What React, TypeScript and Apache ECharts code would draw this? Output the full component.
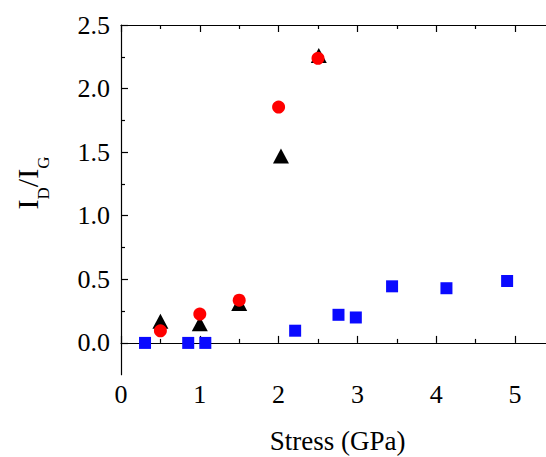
import React, { useEffect, useRef } from 'react';
import * as echarts from 'echarts';

const squareData: number[][] = [
  [0.305, 0], [0.853, 0], [1.07, 0], [2.21, 0.096], [2.76, 0.221],
  [2.98, 0.2], [3.44, 0.445], [4.13, 0.43], [4.9, 0.487],
];
const triangleData: number[][] = [
  [0.5, 0.17], [1.0, 0.15], [1.5, 0.31], [2.03, 1.47], [2.51, 2.26],
];
const circleData: number[][] = [
  [0.5, 0.095], [1.0, 0.227], [1.5, 0.336], [2.0, 1.855], [2.5, 2.238],
];
const xMajor = [0, 1, 2, 3, 4, 5];
const xMinor = [0.5, 1.5, 2.5, 3.5, 4.5];
const yMajor = [0, 0.5, 1, 1.5, 2, 2.5];
const yMinor = [0.25, 0.75, 1.25, 1.75, 2.25];
const xName = 'Stress (GPa)';

const FONT = 'Liberation Serif';

export default function App() {
  const ref = useRef<HTMLDivElement>(null);
  useEffect(() => {
    document.body.style.margin = '0';
    if (!ref.current) return;
    const chart = echarts.init(ref.current, null, { renderer: 'svg' });
    const line = { show: true, lineStyle: { color: '#000', width: 1.2 } };
    const noLine = { show: false };
    const xBase = { type: 'value', min: 0, max: 5.5, splitLine: { show: false } };
    const yBase = { type: 'value', min: -0.25, max: 2.5, splitLine: { show: false } };
    const tick = (vals: number[], len: number) => ({
      show: true, inside: true, length: len, customValues: vals,
      lineStyle: { color: '#000', width: 1.2 },
    });
    chart.setOption({
      animation: false,
      backgroundColor: '#fff',
      textStyle: { fontFamily: FONT },
      grid: { left: 121, top: 25, width: 433.4, height: 349.7, outerBoundsMode: 'none', containLabel: false },
      xAxis: [
        {
          ...xBase, position: 'bottom', axisLine: line, axisTick: tick(xMajor, 7),
          axisLabel: { customValues: xMajor, fontFamily: FONT, fontSize: 26, color: '#000', margin: 7 },
          name: xName, nameLocation: 'middle', nameGap: 53,
          nameTextStyle: { fontFamily: FONT, fontSize: 27, lineHeight: 27, color: '#000' },
        },
        { ...xBase, position: 'bottom', axisLine: noLine, axisTick: tick(xMinor, 4), axisLabel: { show: false } },
        { ...xBase, position: 'top', axisLine: line, axisTick: tick(xMajor, 7), axisLabel: { show: false } },
        { ...xBase, position: 'top', axisLine: noLine, axisTick: tick(xMinor, 4), axisLabel: { show: false } },
      ],
      yAxis: [
        {
          ...yBase, position: 'left', axisLine: line, axisTick: tick(yMajor, 7),
          axisLabel: {
            customValues: yMajor, fontFamily: FONT, fontSize: 26, color: '#000', margin: 11,
            formatter: (v: number) => v.toFixed(1),
          },
        },
        { ...yBase, position: 'left', axisLine: noLine, axisTick: tick(yMinor, 4), axisLabel: { show: false } },
      ],
      graphic: [
        {
          type: 'text', x: 27, y: 183, rotation: Math.PI / 2,
          style: {
            text: '{a|I}{b|D}{a|/I}{b|G}',
            align: 'center', verticalAlign: 'middle',
            fill: '#000',
            rich: {
              a: { fontFamily: FONT, fontSize: 30, lineHeight: 30, verticalAlign: 'top', fill: '#000' },
              b: { fontFamily: FONT, fontSize: 17, lineHeight: 17, padding: [23, 0, 0, 0], verticalAlign: 'top', fill: '#000' },
            },
          },
        },
      ],
      series: [
        {
          type: 'scatter', data: squareData, symbol: 'rect', symbolSize: 12,
          itemStyle: { color: '#0a0aff', opacity: 1 }, xAxisIndex: 0, yAxisIndex: 0,
        },
        {
          type: 'scatter', data: triangleData, symbol: 'triangle', symbolSize: [16, 15],
          itemStyle: { color: '#000', opacity: 1 }, xAxisIndex: 0, yAxisIndex: 0,
        },
        {
          type: 'scatter', data: circleData, symbol: 'circle', symbolSize: 13,
          itemStyle: { color: '#ff0000', opacity: 1 }, xAxisIndex: 0, yAxisIndex: 0,
        },
      ],
    });
    return () => chart.dispose();
  }, []);
  return <div ref={ref} style={{ width: 546, height: 457 }} />;
}
